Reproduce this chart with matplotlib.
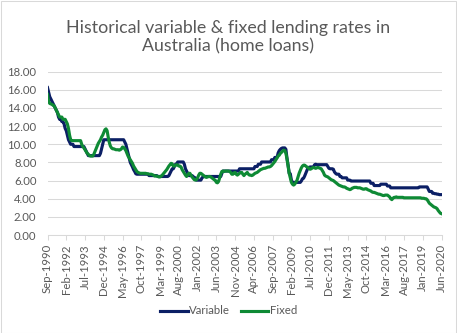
import matplotlib
matplotlib.use("Agg")
import matplotlib.pyplot as plt
import pandas as pd
from matplotlib.patches import Rectangle

plt.rcParams['font.family'] = ['Lato', 'DejaVu Sans']

# Monthly home-loan rates (%), September 1990 to June 2020
START = "1990-09"
variable = [
    16.25, 15.75, 15.25, 15.0,                                             # 1990 (Sep-Dec)
    14.75, 14.5, 14.25, 14.0, 13.75, 13.5, 13.0, 12.75, 12.75, 12.5, 12.5, 12.25,  # 1991
    11.75, 11.5, 11.0, 10.5, 10.25, 10.0, 10.0, 10.0, 9.75, 9.75, 9.75, 9.75,      # 1992
    9.75, 9.75, 9.75, 9.75, 9.75, 9.75, 9.5, 9.25, 9.0, 8.75, 8.75, 8.75,          # 1993
    8.75, 8.75, 8.75, 8.75, 8.75, 8.75, 8.75, 8.75, 9.0, 9.5, 10.0, 10.5,          # 1994
    10.5, 10.5, 10.5, 10.5, 10.5, 10.5, 10.5, 10.5, 10.5, 10.5, 10.5, 10.5,        # 1995
    10.5, 10.5, 10.5, 10.5, 10.5, 10.5, 10.25, 10.0, 9.5, 9.0, 8.5, 8.0,           # 1996
    7.75, 7.5, 7.2, 7.0, 6.75, 6.7, 6.7, 6.7, 6.7, 6.7, 6.7, 6.7,                  # 1997
    6.7, 6.7, 6.7, 6.7, 6.55, 6.55, 6.55, 6.55, 6.55, 6.55, 6.55, 6.55,            # 1998
    6.45, 6.45, 6.45, 6.45, 6.45, 6.45, 6.45, 6.45, 6.45, 6.45, 6.55, 6.8,         # 1999
    7.05, 7.3, 7.3, 7.55, 7.8, 7.8, 8.05, 8.05, 8.05, 8.05, 8.05, 8.05,            # 2000
    7.8, 7.3, 7.05, 6.8, 6.55, 6.55, 6.55, 6.55, 6.45, 6.3, 6.3, 6.05,             # 2001
    6.05, 6.05, 6.05, 6.05, 6.3, 6.4, 6.45, 6.45, 6.45, 6.45, 6.45, 6.45,          # 2002
    6.45, 6.45, 6.45, 6.45, 6.45, 6.45, 6.45, 6.45, 6.45, 6.45, 6.8, 7.05,         # 2003
    7.05, 7.05, 7.05, 7.05, 7.05, 7.05, 7.05, 7.05, 7.05, 7.05, 7.05, 7.05,        # 2004
    7.05, 7.05, 7.3, 7.3, 7.3, 7.3, 7.3, 7.3, 7.3, 7.3, 7.3, 7.3,                  # 2005
    7.3, 7.3, 7.3, 7.3, 7.55, 7.55, 7.55, 7.8, 7.8, 7.8, 8.05, 8.05,               # 2006
    8.05, 8.05, 8.05, 8.05, 8.05, 8.05, 8.05, 8.3, 8.3, 8.3, 8.55, 8.55,           # 2007
    8.55, 9.05, 9.3, 9.45, 9.55, 9.6, 9.6, 9.6, 9.45, 8.45, 7.7, 6.8,              # 2008
    6.75, 6.05, 5.8, 5.8, 5.8, 5.8, 5.8, 5.8, 5.8, 5.8, 5.95, 6.2,                 # 2009
    6.25, 6.5, 6.8, 7.1, 7.4, 7.45, 7.5, 7.5, 7.5, 7.5, 7.75, 7.8,                 # 2010
    7.75, 7.75, 7.75, 7.75, 7.75, 7.75, 7.75, 7.75, 7.75, 7.75, 7.55, 7.35,        # 2011
    7.3, 7.3, 7.3, 7.25, 6.95, 6.8, 6.7, 6.7, 6.7, 6.45, 6.45, 6.3,                # 2012
    6.3, 6.3, 6.3, 6.3, 6.05, 6.05, 6.05, 5.95, 5.95, 5.95, 5.95, 5.95,            # 2013
    5.95, 5.95, 5.95, 5.95, 5.95, 5.95, 5.95, 5.95, 5.95, 5.95, 5.95, 5.95,        # 2014
    5.95, 5.7, 5.7, 5.7, 5.45, 5.45, 5.45, 5.45, 5.45, 5.45, 5.6, 5.6,             # 2015
    5.6, 5.6, 5.6, 5.6, 5.4, 5.4, 5.4, 5.2, 5.2, 5.2, 5.2, 5.2,                    # 2016
    5.2, 5.2, 5.2, 5.2, 5.2, 5.2, 5.2, 5.2, 5.2, 5.2, 5.2, 5.2,                    # 2017
    5.2, 5.2, 5.2, 5.2, 5.2, 5.2, 5.2, 5.2, 5.2, 5.3, 5.3, 5.3,                    # 2018
    5.3, 5.3, 5.3, 5.3, 5.3, 5.05, 4.8, 4.8, 4.8, 4.6, 4.6, 4.55,                  # 2019
    4.55, 4.5, 4.5, 4.45, 4.45, 4.45,                                              # 2020 (Jan-Jun)
]
fixed = [
    15.5, 14.75, 14.5, 14.45,                                                      # 1990 (Sep-Dec)
    14.4, 14.3, 14.25, 14.0, 13.75, 13.5, 13.25, 13.0, 13.0, 13.0, 12.75, 12.75,   # 1991
    12.75, 12.5, 12.25, 11.75, 11.0, 10.5, 10.4, 10.4, 10.4, 10.4, 10.4, 10.4,     # 1992
    10.4, 10.4, 10.4, 10.0, 9.75, 9.6, 9.4, 9.2, 9.0, 8.9, 8.75, 8.7,              # 1993
    8.7, 8.7, 8.9, 9.2, 9.5, 9.8, 10.1, 10.3, 10.5, 10.8, 11.0, 11.3,              # 1994
    11.6, 11.7, 11.5, 10.8, 10.2, 9.8, 9.6, 9.5, 9.5, 9.45, 9.4, 9.4,              # 1995
    9.4, 9.35, 9.4, 9.5, 9.7, 9.65, 9.5, 9.3, 9.0, 8.7, 8.5, 8.3,                  # 1996
    8.1, 7.9, 7.6, 7.4, 7.2, 7.0, 6.9, 6.85, 6.8, 6.8, 6.8, 6.8,                   # 1997
    6.8, 6.8, 6.75, 6.75, 6.7, 6.7, 6.7, 6.65, 6.6, 6.5, 6.5, 6.5,                 # 1998
    6.45, 6.4, 6.4, 6.5, 6.6, 6.75, 6.9, 7.05, 7.2, 7.4, 7.6, 7.75,                # 1999
    7.9, 7.85, 7.6, 7.6, 7.7, 7.75, 7.7, 7.6, 7.6, 7.5, 7.2, 7.0,                  # 2000
    6.8, 6.6, 6.45, 6.6, 6.8, 6.8, 6.6, 6.4, 6.25, 6.1, 6.05, 6.1,                 # 2001
    6.3, 6.6, 6.8, 6.8, 6.7, 6.6, 6.5, 6.4, 6.35, 6.4, 6.45, 6.45,                 # 2002
    6.4, 6.3, 6.2, 6.1, 6.05, 5.8, 5.75, 5.9, 6.3, 6.7, 7.0, 7.05,                 # 2003
    7.0, 7.05, 7.05, 7.05, 7.05, 7.0, 6.9, 6.7, 6.7, 6.85, 6.9, 6.7,               # 2004
    6.6, 6.7, 6.8, 6.9, 6.9, 6.7, 6.55, 6.7, 6.8, 6.9, 6.7, 6.6,                   # 2005
    6.6, 6.55, 6.6, 6.7, 6.8, 6.85, 6.9, 7.0, 7.1, 7.2, 7.25, 7.3,                 # 2006
    7.35, 7.35, 7.4, 7.45, 7.5, 7.5, 7.55, 7.65, 7.8, 7.95, 8.1, 8.3,              # 2007
    8.5, 8.7, 8.8, 9.0, 9.1, 9.25, 9.35, 9.3, 9.0, 8.4, 7.6, 6.8,                  # 2008
    6.3, 5.8, 5.6, 5.5, 5.6, 5.8, 6.0, 6.4, 6.8, 7.1, 7.4, 7.6,                    # 2009
    7.7, 7.7, 7.6, 7.5, 7.45, 7.3, 7.25, 7.3, 7.4, 7.45, 7.4, 7.35,                # 2010
    7.4, 7.45, 7.4, 7.35, 7.3, 7.1, 6.9, 6.6, 6.5, 6.45, 6.4, 6.3,                 # 2011
    6.2, 6.1, 6.05, 6.0, 5.9, 5.8, 5.7, 5.6, 5.5, 5.45, 5.4, 5.35,                 # 2012
    5.3, 5.3, 5.25, 5.15, 5.1, 5.05, 5.0, 5.05, 5.15, 5.2, 5.25, 5.25,             # 2013
    5.25, 5.2, 5.2, 5.2, 5.15, 5.1, 5.05, 5.05, 5.1, 5.1, 5.0, 4.95,               # 2014
    4.9, 4.85, 4.75, 4.7, 4.7, 4.65, 4.6, 4.55, 4.5, 4.5, 4.45, 4.4,               # 2015
    4.35, 4.35, 4.4, 4.4, 4.4, 4.3, 4.2, 4.0, 3.9, 4.05, 4.15, 4.15,               # 2016
    4.2, 4.15, 4.15, 4.15, 4.15, 4.15, 4.15, 4.1, 4.1, 4.1, 4.1, 4.1,              # 2017
    4.1, 4.1, 4.1, 4.1, 4.1, 4.1, 4.1, 4.1, 4.1, 4.1, 4.1, 4.05,                   # 2018
    4.05, 4.05, 4.0, 4.0, 3.9, 3.7, 3.5, 3.4, 3.3, 3.2, 3.1, 3.05,                 # 2019
    3.0, 2.9, 2.7, 2.55, 2.4, 2.35,                                                # 2020 (Jan-Jun)
]
series_names = ["Variable", "Fixed"]
y_ticks = [0, 2, 4, 6, 8, 10, 12, 14, 16, 18]
TICK_EVERY = 17  # months between category labels

NAVY = "#0B1F65"
GREEN = "#0E8A35"
GRID = "#D9D9D9"
TEXT = "#595959"

months = pd.date_range(START, periods=len(variable), freq="MS")
x = list(range(len(months)))

W, H = 457, 333
fig = plt.figure(figsize=(W / 100, H / 100), dpi=100)
fig.patch.set_facecolor("white")
fig.patches.append(Rectangle((0.5 / W, 0.5 / H), 1 - 1.5 / W, 1 - 1.5 / H,
                             transform=fig.transFigure, fill=False,
                             edgecolor=GRID, linewidth=0.75))

ax = fig.add_axes([47.5 / W, 98 / H, 394 / W, 163.3 / H])
l1, = ax.plot(x, variable, color=NAVY, lw=2.25, solid_joinstyle="round",
              label=series_names[0])
l2, = ax.plot(x, fixed, color=GREEN, lw=2.25, solid_joinstyle="round",
              label=series_names[1])

ax.set_xlim(0, len(x) - 1)
ax.set_ylim(y_ticks[0], y_ticks[-1])
ax.set_yticks(y_ticks)
ax.set_yticklabels([f"{v:.2f}" for v in y_ticks])
ax.grid(axis="y", color=GRID, lw=0.75)
ax.set_axisbelow(True)
for side in ("top", "right", "left"):
    ax.spines[side].set_visible(False)
ax.spines["bottom"].set_color(GRID)
ax.spines["bottom"].set_linewidth(0.75)

tick_idx = list(range(0, len(x), TICK_EVERY))
ax.set_xticks(tick_idx)
ax.set_xticklabels([months[i].strftime("%b-%Y") for i in tick_idx], rotation=90)
ax.tick_params(axis="x", length=3.5, width=0.75, color=GRID, pad=3,
               labelsize=8.2, labelcolor=TEXT)
ax.tick_params(axis="y", length=0, pad=8, labelsize=8.2, labelcolor=TEXT)

fig.text(0.5, 1 - 51.5 / H,
         "Historical variable & fixed lending rates in\nAustralia (home loans)",
         ha="center", va="baseline", fontsize=12.8, color=TEXT,
         fontweight="normal", linespacing=1.15)

fig.legend(handles=[l1, l2], loc="center", bbox_to_anchor=(0.5, 1 - 311 / H),
           ncol=2, frameon=False, fontsize=8.2, labelcolor=TEXT,
           handlelength=2.4, handletextpad=0.1, columnspacing=1.0)

fig.savefig("out.png", dpi=100, facecolor="white")
